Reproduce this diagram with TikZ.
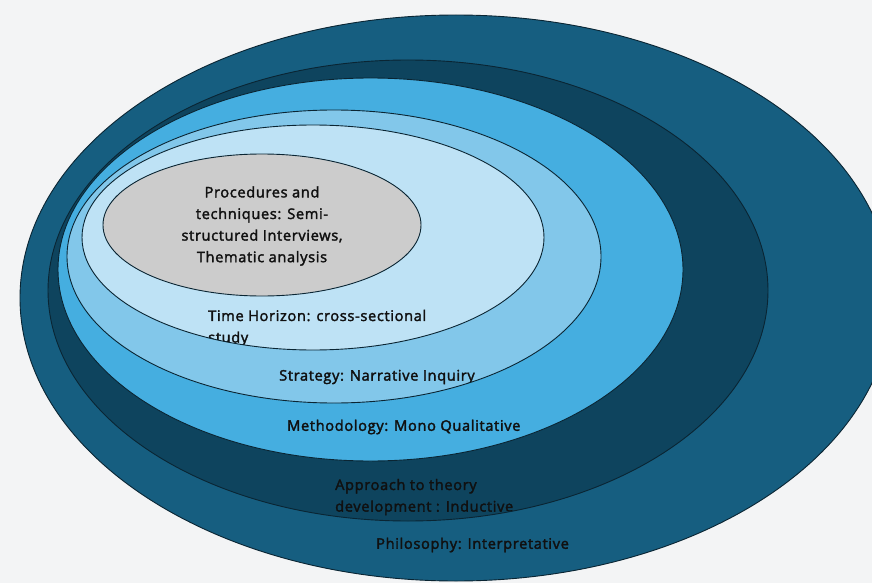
\documentclass[tikz,border=0pt]{standalone}
\usepackage{fontspec}
\setmainfont{Open Sans}
\newfontfamily\lblfont{Open Sans}[LetterSpace=4.5,FakeBold=2.2]
\definecolor{bgc}{HTML}{F3F4F5}
\definecolor{philc}{HTML}{165E80}
\definecolor{apprc}{HTML}{0E445E}
\definecolor{methc}{HTML}{45AEE0}
\definecolor{stratc}{HTML}{82C7EA}
\definecolor{timec}{HTML}{BEE2F5}
\definecolor{procc}{HTML}{CCCCCC}
\definecolor{edgec}{HTML}{0A2533}
\definecolor{txtc}{HTML}{101010}
\tikzset{
  ring/.style={draw=edgec, line width=0.9pt},
  lbl/.style={text=txtc, inner sep=0pt, font=\lblfont\fontsize{14.6}{21.6}\selectfont},
}
\begin{document}
\begin{tikzpicture}[x=1pt,y=-1pt]
\useasboundingbox (0,0) rectangle (872,583);
\fill[bgc] (0,0) rectangle (872,583);
\clip (0,0) rectangle (872,583);
% Philosophy
\fill[philc] (456,298) ellipse [x radius=436pt, y radius=283pt];
\begin{scope}
  \clip (456,298) ellipse [x radius=436pt, y radius=283pt];
  \node[lbl, anchor=west] (phil) at (376,545) {Philosophy: Interpretative};
\end{scope}
\draw[ring] (456,298) ellipse [x radius=436pt, y radius=283pt];
% Approach
\fill[apprc] (408,290.5) ellipse [x radius=360pt, y radius=230.5pt];
\begin{scope}
  \clip (408,290.5) ellipse [x radius=360pt, y radius=230.5pt];
  \node[lbl, anchor=west, align=left] (appr) at (335,497) {Approach to theory\\development : Inductive};
\end{scope}
\draw[ring] (408,290.5) ellipse [x radius=360pt, y radius=230.5pt];
% Methodology
\fill[methc] (370.5,269.5) ellipse [x radius=312.5pt, y radius=191.5pt];
\node[lbl, anchor=west] (meth) at (287,427) {Methodology: Mono Qualitative};
\draw[ring] (370.5,269.5) ellipse [x radius=312.5pt, y radius=191.5pt];
% Strategy
\fill[stratc] (334,256.5) ellipse [x radius=267pt, y radius=146.5pt];
\begin{scope}
  \clip (334,256.5) ellipse [x radius=267pt, y radius=146.5pt];
  \node[lbl, anchor=west] (strat) at (279,377) {Strategy: Narrative Inquiry};
\end{scope}
\draw[ring] (334,256.5) ellipse [x radius=267pt, y radius=146.5pt];
% Time horizon
\fill[timec] (313,237.5) ellipse [x radius=231pt, y radius=112.5pt];
\begin{scope}
  \clip (313,237.5) ellipse [x radius=231pt, y radius=112.5pt];
  \node[lbl, anchor=west, align=left] (time) at (208,328) {Time Horizon: cross-sectional\\study};
\end{scope}
\draw[ring] (313,237.5) ellipse [x radius=231pt, y radius=112.5pt];
% Procedures
\fill[procc] (262,225) ellipse [x radius=159pt, y radius=71pt];
\node[lbl, align=center] (proc) at (262,226) {Procedures and\\techniques: Semi-\\structured Interviews,\\Thematic analysis};
\draw[ring] (262,225) ellipse [x radius=159pt, y radius=71pt];
\end{tikzpicture}
\end{document}
